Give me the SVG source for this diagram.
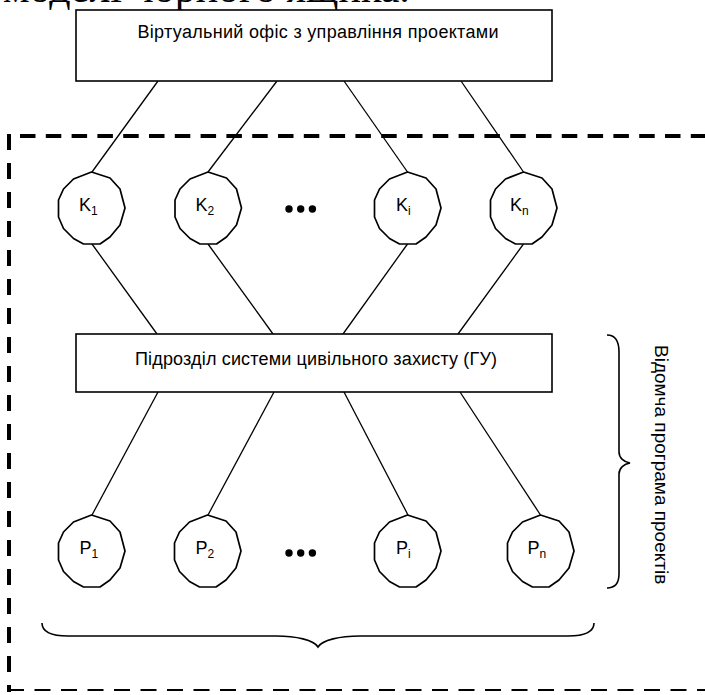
<svg xmlns="http://www.w3.org/2000/svg" xmlns:xlink="http://www.w3.org/1999/xlink" width="705" height="695" viewBox="0 0 705 695">
  <style>
    .box { fill: #fff; stroke: #000; stroke-width: 1.6; }
    .bubble { fill: #fff; stroke: #000; stroke-width: 1.7; stroke-linejoin: round; }
    .link { stroke: #000; stroke-width: 1.3; fill: none; }
    .brace { stroke: #000; stroke-width: 1.6; fill: none; }
    .lbl { font-family: "Liberation Sans", Arial, sans-serif; fill: #000; }
    .node { font-family: "Liberation Sans", Arial, sans-serif; font-size: 18px; fill: #000; }
    .sub { font-size: 12px; }
  </style>
  <defs>
    <!-- faceted circle used for every K and P node, centred on 0,0 -->
    <polygon id="bubble" class="bubble" points="0,-36 18.5,-30 28.5,-19 33.5,0 28.5,17 18.5,29 8.5,36 -8,36 -18,30.5 -28,20.5 -33,9 -33,-8 -28,-19 -18,-29"/>
  </defs>
  <rect width="705" height="695" fill="#fff"/>

  <!-- caption line cut off at the top edge -->
  <text x="3" y="1.5" font-family="'Liberation Serif', 'Times New Roman', serif" font-size="42" fill="#000">моделі чорного ящика.</text>

  <!-- dashed boundary of the programme -->
  <g id="boundary" fill="none" stroke="#000">
    <line x1="20" y1="136" x2="705" y2="136" stroke-width="4" stroke-dasharray="15.5 10.3"/>
    <line x1="9" y1="134" x2="9" y2="692" stroke-width="4" stroke-dasharray="16 13"/>
    <line x1="8" y1="690" x2="705" y2="690" stroke-width="2.2" stroke-dasharray="16 10.5"/>
  </g>

  <!-- connectors -->
  <g id="connectors" class="link">
    <line x1="158" y1="81" x2="92" y2="172"/>
    <line x1="277" y1="81" x2="208" y2="172"/>
    <line x1="344" y1="81" x2="407.5" y2="172"/>
    <line x1="461" y1="81" x2="523.5" y2="172"/>
    <line x1="92" y1="244" x2="157" y2="334"/>
    <line x1="208" y1="244" x2="273" y2="334"/>
    <line x1="407.5" y1="244" x2="343" y2="334"/>
    <line x1="523.5" y1="244" x2="458" y2="334"/>
    <line x1="158" y1="392" x2="92" y2="515"/>
    <line x1="274" y1="392" x2="208" y2="515"/>
    <line x1="344" y1="392" x2="408" y2="515"/>
    <line x1="460" y1="392" x2="540.5" y2="515"/>
  </g>

  <!-- virtual project office -->
  <g id="office">
    <rect class="box" x="76" y="10" width="476" height="71"/>
    <text class="lbl" x="318" y="38" font-size="18" text-anchor="middle" textLength="361" lengthAdjust="spacing">Віртуальний офіс з управління проектами</text>
  </g>

  <!-- civil protection unit -->
  <g id="unit">
    <rect class="box" x="76" y="334" width="476" height="58"/>
    <text class="lbl" x="316" y="365" font-size="18" text-anchor="middle" textLength="362" lengthAdjust="spacing">Підрозділ системи цивільного захисту (ГУ)</text>
  </g>

  <!-- K row -->
  <g id="k1"><use xlink:href="#bubble" href="#bubble" x="91.5" y="208"/><text class="node" x="79" y="211">K<tspan class="sub" dy="4">1</tspan></text></g>
  <g id="k2"><use xlink:href="#bubble" href="#bubble" x="208" y="208"/><text class="node" x="195.5" y="211">K<tspan class="sub" dy="4">2</tspan></text></g>
  <g id="k-dots"><circle cx="289" cy="209" r="3.7"/><circle cx="300.7" cy="209" r="3.7"/><circle cx="312.4" cy="209" r="3.7"/></g>
  <g id="ki"><use xlink:href="#bubble" href="#bubble" x="407.5" y="208"/><text class="node" x="396" y="211">K<tspan class="sub" dy="4">i</tspan></text></g>
  <g id="kn"><use xlink:href="#bubble" href="#bubble" x="523.5" y="208"/><text class="node" x="510" y="211">K<tspan class="sub" dy="4">n</tspan></text></g>

  <!-- P row -->
  <g id="p1"><use xlink:href="#bubble" href="#bubble" x="91.5" y="551"/><text class="node" x="79.5" y="554">P<tspan class="sub" dy="4">1</tspan></text></g>
  <g id="p2"><use xlink:href="#bubble" href="#bubble" x="207.5" y="551"/><text class="node" x="195.5" y="554">P<tspan class="sub" dy="4">2</tspan></text></g>
  <g id="p-dots"><circle cx="289" cy="553" r="3.7"/><circle cx="300.7" cy="553" r="3.7"/><circle cx="312.4" cy="553" r="3.7"/></g>
  <g id="pi"><use xlink:href="#bubble" href="#bubble" x="407.5" y="551"/><text class="node" x="396" y="554">P<tspan class="sub" dy="4">i</tspan></text></g>
  <g id="pn"><use xlink:href="#bubble" href="#bubble" x="540.5" y="551"/><text class="node" x="527.5" y="554">P<tspan class="sub" dy="4">n</tspan></text></g>

  <!-- braces -->
  <g id="braces" class="brace">
    <path d="M607,335 C615,335 619,341 619,352 L619,452 C619,458 624,462 630,463 C624,464 619,468 619,474 L619,574 C619,584 615,588 607,588"/>
    <path d="M42,623 C42,632 52,636 68,636 L276,636 C296,636 314,640 318,647 C322,640 340,636 360,636 L568,636 C584,636 594,632 594,623"/>
  </g>

  <!-- programme label -->
  <g id="programme">
    <text class="lbl" font-size="19" transform="translate(655,345) rotate(90)">Відомча програма проектів</text>
  </g>
</svg>
